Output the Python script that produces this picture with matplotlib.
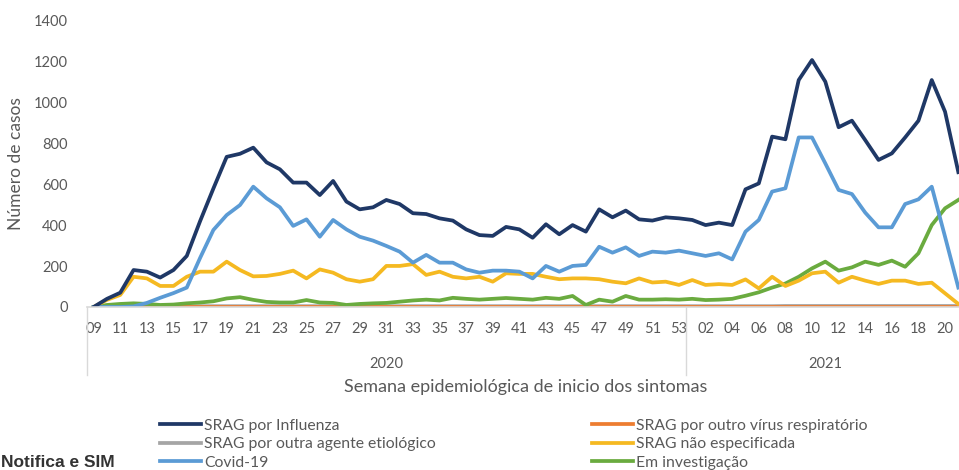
import matplotlib
matplotlib.use("Agg")
import matplotlib.pyplot as plt
from matplotlib.transforms import blended_transform_factory

plt.rcParams["font.family"] = ["Lato", "DejaVu Sans"]

# semanas epidemiológicas: 2020 (09-53) e 2021 (01-21)
weeks_2020 = [f"{w:02d}" for w in range(9, 54)]
weeks_2021 = [f"{w:02d}" for w in range(1, 22)]
weeks = weeks_2020 + weeks_2021

influenza = [0, 40, 70, 181, 173, 144, 181, 250, 420, 580, 735, 750, 780, 708, 674, 609,
             609, 548, 617, 516, 478, 488, 524, 504, 459, 455, 434, 423, 380, 352, 348, 392,
             380, 339, 405, 356, 401, 369, 478, 439, 472, 429, 423, 439, 434, 426, 401, 413,
             401, 576, 605, 834, 821, 1111, 1209, 1103, 880, 912, 817, 720, 752, 830, 912,
             1111, 956, 660]
outro_virus = [0] * 66
outra_agente = [0, 1, 2, 2, 3, 3, 3, 3, 4, 4, 4, 4, 4, 4, 4, 4,
                4, 4, 4, 4, 4, 4, 4, 4, 4, 4, 4, 4, 4, 4, 4, 4,
                4, 4, 4, 4, 4, 4, 4, 4, 4, 4, 4, 4, 4, 4, 4, 4,
                4, 4, 4, 4, 5, 5, 5, 5, 5, 5, 5, 5, 5, 5, 5,
                5, 5, 5]
nao_especificada = [0, 35, 59, 148, 140, 103, 103, 148, 173, 173, 222, 181, 150, 152, 162, 178,
                    140, 184, 168, 136, 124, 136, 201, 201, 210, 157, 173, 148, 140, 148, 124, 165,
                    162, 162, 148, 136, 140, 140, 136, 124, 116, 140, 120, 124, 108, 132, 108, 112,
                    108, 135, 91, 148, 103, 129, 165, 173, 119, 148, 129, 113, 129, 129, 113,
                    119, 67, 15]
covid = [0, 0, 0, 3, 20, 45, 68, 95, 240, 377, 450, 499, 589, 532, 488, 397,
         429, 344, 426, 380, 344, 325, 299, 271, 217, 255, 217, 217, 184, 168, 178, 178,
         173, 140, 201, 173, 201, 206, 295, 266, 292, 250, 271, 266, 276, 263, 250, 263,
         233, 369, 426, 565, 581, 830, 830, 703, 573, 553, 462, 390, 390, 504, 527,
         589, 344, 95]
investigacao = [0, 10, 15, 18, 15, 10, 12, 18, 22, 28, 42, 48, 35, 25, 22, 22,
                34, 22, 20, 10, 15, 18, 20, 26, 32, 36, 32, 45, 40, 36, 40, 44,
                40, 36, 45, 40, 54, 10, 36, 26, 54, 36, 36, 38, 36, 40, 34, 36,
                40, 55, 72, 95, 115, 148, 189, 222, 178, 194, 222, 206, 227, 197, 263,
                401, 483, 524]

x = list(range(len(weeks)))

fig = plt.figure(figsize=(9.59, 4.70), dpi=100)
ax = fig.add_axes([87 / 959, 163 / 470, 878 / 959, 286 / 470])

lw = 2.7
series = [
    ("SRAG por Influenza", influenza, "#1f3866"),
    ("SRAG por outro vírus respiratório", outro_virus, "#ed7d31"),
    ("SRAG por outra agente etiológico", outra_agente, "#a5a5a5"),
    ("SRAG não especificada", nao_especificada, "#f5b921"),
    ("Covid-19", covid, "#5b9bd5"),
    ("Em investigação", investigacao, "#6aab3f"),
]
draw_order = [2, 1, 5, 3, 4, 0]
handles = {}
for k in draw_order:
    label, values, color = series[k]
    (h,) = ax.plot(x, values, color=color, lw=lw, solid_joinstyle="round", label=label)
    handles[k] = h

ax.set_xlim(-0.5, len(weeks) - 0.5)
ax.set_ylim(0, 1400)
ax.set_yticks(range(0, 1401, 200))

ax.set_xticks(x[::2])
ax.set_xticklabels(weeks[::2])
ax.tick_params(axis="both", length=0, labelsize=10.5, colors="#595959")
ax.tick_params(axis="x", pad=11)
ax.tick_params(axis="y", pad=14)

for side in ["top", "right", "left"]:
    ax.spines[side].set_visible(False)
ax.spines["bottom"].set_color("#d9d9d9")
ax.spines["bottom"].set_linewidth(1.2)

# linhas de agrupamento por ano e rótulos dos anos
trans = blended_transform_factory(ax.transData, ax.transAxes)
n2020 = len(weeks_2020)
for xs in [-0.5, n2020 - 0.5, len(weeks) - 0.5]:
    ax.plot([xs, xs], [0, -0.238], transform=trans, color="#d9d9d9", lw=1, clip_on=False)
ax.text((n2020 - 1) / 2, -0.2, "2020", transform=trans, ha="center", va="center",
        fontsize=10.5, color="#595959")
ax.text(n2020 + (len(weeks_2021) - 1) / 2, -0.2, "2021", transform=trans, ha="center",
        va="center", fontsize=10.5, color="#595959")

ax.set_xlabel("Semana epidemiológica de inicio dos sintomas", fontsize=13,
              color="#595959", labelpad=31)
ax.set_ylabel("Número de casos", fontsize=12.5, color="#595959", labelpad=7)

legend_order = [0, 2, 4, 1, 3, 5]
fig.legend([handles[k] for k in legend_order], [series[k][0] for k in legend_order],
           loc="upper left", bbox_to_anchor=(152 / 959, 1 - 411 / 470), ncol=2,
           frameon=False, fontsize=11.3, labelcolor="#595959", borderpad=0,
           handlelength=2.6, handletextpad=0.2, columnspacing=9.95, labelspacing=0.28)

fig.text(0.001, 1 - 467 / 470, "Notifica e SIM", fontsize=12.5, fontweight="bold",
         family=["Liberation Sans Narrow", "Liberation Sans"], color="#333333",
         va="baseline", ha="left")

fig.savefig("out.png", dpi=100)
